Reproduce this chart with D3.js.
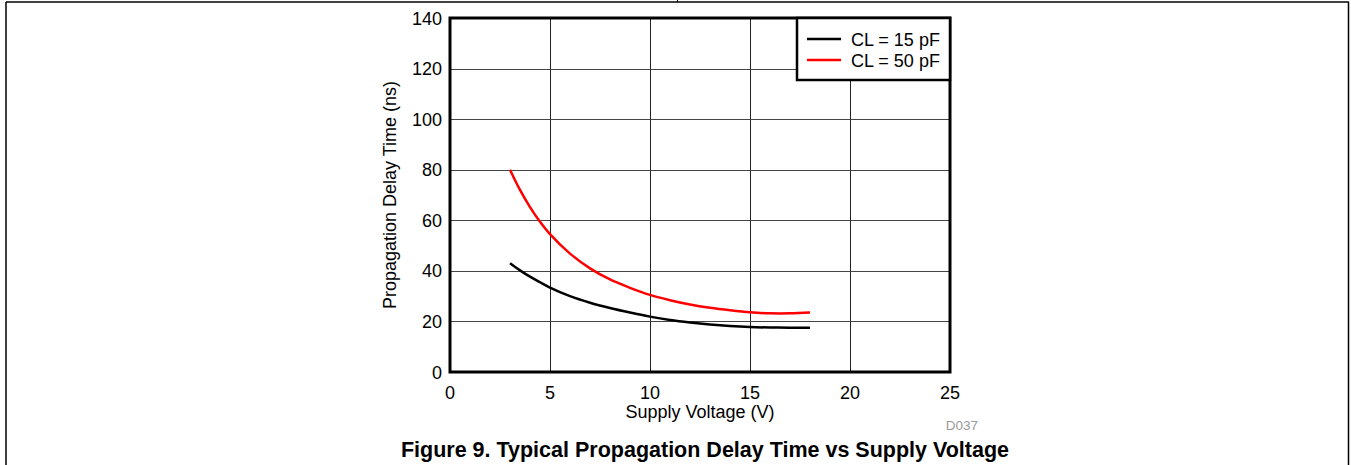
<!DOCTYPE html>
<html>
<head>
<meta charset="UTF-8">
<title>Propagation Delay Time vs Supply Voltage</title>
<script src="https://cdn.jsdelivr.net/npm/d3@7"></script>
<style>
  body { margin: 0; background: #fff; }
  svg { display: block; font-family: "Liberation Sans", Arial, sans-serif; }
</style>
</head>
<body>
<svg id="chart" width="1351" height="465"></svg>
<script>
// supply voltage (V)
var voltage = [3, 3.5, 4, 4.5, 5, 6, 7, 8, 9, 10, 11, 12, 13, 14, 15, 16, 17, 18];
// propagation delay (ns)
var cl15 = [43, 40.2, 37.7, 35.5, 33.4, 30, 27.4, 25.3, 23.5, 21.9, 20.6, 19.6, 18.8, 18.2, 17.8, 17.6, 17.5, 17.5];
var cl50 = [80, 72.0, 65.2, 59.4, 54.5, 46.8, 41, 36.6, 33.3, 30.5, 28.4, 26.7, 25.4, 24.4, 23.6, 23.2, 23.2, 23.5];
var xTicks = [0, 5, 10, 15, 20, 25];
var yTicks = [0, 20, 40, 60, 80, 100, 120, 140];
var seriesNames = ["CL = 15 pF", "CL = 50 pF"];
var seriesColors = ["#000000", "#ff0000"];

var svg = d3.select("#chart");

// page frame
svg.append("line").attr("x1", 6).attr("x2", 1349).attr("y1", 2).attr("y2", 2)
  .attr("stroke", "#000").attr("stroke-width", 1.5);
svg.append("line").attr("x1", 6).attr("x2", 6).attr("y1", 2).attr("y2", 465)
  .attr("stroke", "#000").attr("stroke-width", 1.5);
svg.append("line").attr("x1", 1348.5).attr("x2", 1348.5).attr("y1", 2).attr("y2", 465)
  .attr("stroke", "#000").attr("stroke-width", 1.5);
svg.append("line").attr("x1", 677.5).attr("x2", 677.5).attr("y1", 0).attr("y2", 2)
  .attr("stroke", "#000").attr("stroke-width", 1);

var pl = 450, pr = 950, pt = 18, pb = 372;
var x = d3.scaleLinear().domain([0, 25]).range([pl, pr]);
var y = d3.scaleLinear().domain([0, 140]).range([pb, pt]);

// grid
var g = svg.append("g");
g.selectAll(".vg").data(xTicks.slice(1, -1)).enter().append("line")
  .attr("x1", d => Math.round(x(d)) + 0.5).attr("x2", d => Math.round(x(d)) + 0.5)
  .attr("y1", pt).attr("y2", pb)
  .attr("stroke", "#222").attr("stroke-width", 1);
g.selectAll(".hg").data(yTicks.slice(1, -1)).enter().append("line")
  .attr("y1", d => Math.round(y(d)) + 0.5).attr("y2", d => Math.round(y(d)) + 0.5)
  .attr("x1", pl).attr("x2", pr)
  .attr("stroke", "#444").attr("stroke-width", 1);

// curves
var line = d3.line().x(d => x(d[0])).y(d => y(d[1])).curve(d3.curveCatmullRom);
[cl15, cl50].forEach(function(s, i) {
  svg.append("path")
    .datum(voltage.map((v, j) => [v, s[j]]))
    .attr("d", line)
    .attr("fill", "none")
    .attr("stroke", seriesColors[i])
    .attr("stroke-width", 2.5);
});

// plot frame
svg.append("rect").attr("x", pl).attr("y", pt)
  .attr("width", pr - pl).attr("height", pb - pt)
  .attr("fill", "none").attr("stroke", "#000").attr("stroke-width", 3);

// axes labels
svg.selectAll(".xt").data(xTicks).enter().append("text")
  .attr("x", d => x(d)).attr("y", pb + 27)
  .attr("text-anchor", "middle").attr("font-size", 18).text(d => d);
svg.selectAll(".yt").data(yTicks).enter().append("text")
  .attr("x", pl - 8).attr("y", d => y(d) + 6.5)
  .attr("text-anchor", "end").attr("font-size", 18).text(d => d);

svg.append("text").attr("x", x(12.5)).attr("y", 418)
  .attr("text-anchor", "middle").attr("font-size", 18).text("Supply Voltage (V)");
svg.append("text")
  .attr("transform", "translate(396," + ((pt + pb) / 2) + ") rotate(-90)")
  .attr("text-anchor", "middle").attr("font-size", 18).text("Propagation Delay Time (ns)");

svg.append("text").attr("x", 962).attr("y", 430)
  .attr("text-anchor", "middle").attr("font-size", 13.5).attr("fill", "#999").text("D037");

svg.append("text").attr("x", 705).attr("y", 457)
  .attr("text-anchor", "middle").attr("font-size", 21.5).attr("font-weight", "bold")
  .text("Figure 9. Typical Propagation Delay Time vs Supply Voltage");

// legend
var lg = svg.append("g");
lg.append("rect").attr("x", 797).attr("y", pt).attr("width", pr - 797).attr("height", 62)
  .attr("fill", "#fff").attr("stroke", "#000").attr("stroke-width", 2.5);
seriesNames.forEach(function(n, i) {
  var yy = 39 + i * 21;
  lg.append("line").attr("x1", 807).attr("x2", 841).attr("y1", yy).attr("y2", yy)
    .attr("stroke", seriesColors[i]).attr("stroke-width", 2.5);
  lg.append("text").attr("x", 851).attr("y", yy + 6.5).attr("font-size", 18).text(n);
});
</script>
</body>
</html>
